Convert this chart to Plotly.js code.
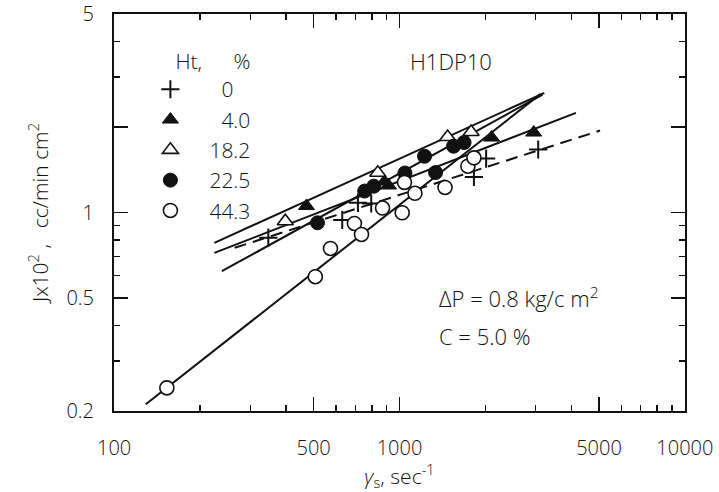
<!DOCTYPE html>
<html>
<head>
<meta charset="utf-8">
<script src="https://cdn.plot.ly/plotly-3.0.1.min.js"></script>
<style>html,body{margin:0;padding:0;background:#fff;}#chart{width:719px;height:492px;}</style>
</head>
<body>
<div id="chart"></div>
<script>
// ---- data (shear rate sec^-1, J x 10^2 cc/min cm^2) ----
const seriesNames = ["\u2002\u2009\u20070", "\u2002\u2009\u20074.0", "\u2002\u200918.2", "\u2002\u200922.5", "\u2002\u200944.3"];

const x_ht0 = [347, 630, 715, 796, 1823, 2012, 3062];
const y_ht0 = [0.815, 0.941, 1.082, 1.076, 1.334, 1.549, 1.667];

const x_ht4 = [472, 886, 915, 2102, 2953];
const y_ht4 = [1.054, 1.286, 1.245, 1.837, 1.913];

const x_ht18 = [398, 839, 1474, 1782];
const y_ht18 = [0.932, 1.380, 1.845, 1.921];

const x_ht22 = [516, 755, 813, 1045, 1224, 1338, 1547, 1684];
const y_ht22 = [0.920, 1.190, 1.238, 1.378, 1.578, 1.383, 1.712, 1.764];

const x_ht44 = [153, 507, 573, 695, 736, 872, 1022, 1041, 1133, 1444, 1736, 1823];
const y_ht44 = [0.241, 0.594, 0.747, 0.915, 0.837, 1.037, 0.998, 1.277, 1.169, 1.225, 1.456, 1.558];

// fitted straight lines (end points on log-log axes)
const fitX_ht0 = [264.5, 5044];  const fitY_ht0 = [0.751, 1.944];
const fitX_ht4 = [224.5, 4152];  const fitY_ht4 = [0.721, 2.244];
const fitX_ht18 = [224.5, 3218]; const fitY_ht18 = [0.782, 2.639];
const fitX_ht22 = [238.4, 3172]; const fitY_ht22 = [0.621, 2.603];
const fitX_ht44 = [129.1, 3124]; const fitY_ht44 = [0.211, 2.618];

const xTickVals = [100, 500, 1000, 5000, 10000];
const xTickText = ["100", "500", "1000", "5000", "10000"];
const xMinorVals = [200, 300, 400, 600, 700, 800, 900, 2000, 3000, 4000, 6000, 7000, 8000, 9000];
const yTickVals = [0.2, 0.5, 1, 2, 5];
const yTickText = ["0.2", "0.5", "1", "", "5"];
const yMinorVals = [0.3, 0.4, 0.6, 0.7, 0.8, 0.9, 3, 4];

// ---- build traces ----
const FONT = "Open Sans, DejaVu Sans, sans-serif";
const W = 300;
const INK = "#111";
function fnt(size) { return {family: FONT, size: size, color: INK, weight: W}; }
function fitLine(x, y, dash) {
  return {x: x, y: y, xaxis: "x", yaxis: "y", mode: "lines", showlegend: false, hoverinfo: "skip",
          line: {color: INK, width: 2, dash: dash || "solid"}};
}
function pts(x, y, name, marker) {
  return {x: x, y: y, xaxis: "x2", yaxis: "y2", name: name, mode: "markers", marker: marker};
}
const traces = [
  fitLine(fitX_ht0, fitY_ht0, "12px,7px"),
  fitLine(fitX_ht4, fitY_ht4),
  fitLine(fitX_ht18, fitY_ht18),
  fitLine(fitX_ht22, fitY_ht22),
  fitLine(fitX_ht44, fitY_ht44),
  pts(x_ht0, y_ht0, seriesNames[0], {symbol: "cross-thin-open", size: 13, color: INK, line: {color: INK, width: 2}}),
  pts(x_ht4, y_ht4, seriesNames[1], {symbol: "triangle-up", size: 14, color: INK, line: {color: INK, width: 1}}),
  pts(x_ht18, y_ht18, seriesNames[2], {symbol: "triangle-up", size: 14, color: "#fff", line: {color: INK, width: 1.6}}),
  pts(x_ht22, y_ht22, seriesNames[3], {symbol: "circle", size: 14, color: INK, line: {color: INK, width: 1}}),
  pts(x_ht44, y_ht44, seriesNames[4], {symbol: "circle", size: 14, color: "#fff", line: {color: INK, width: 1.6}})
];

const xRange = [Math.log10(100) - 0.0005, Math.log10(10000) + 0.0005];
const yRange = [Math.log10(0.2) - 0.0005, Math.log10(5) + 0.0005];

// base axes: minor ticks only
const minorCommon = {
  type: "log", showgrid: false, zeroline: false,
  showline: true, linecolor: INK, linewidth: 2, mirror: "allticks",
  ticks: "inside", ticklen: 6, tickwidth: 1.5, tickcolor: INK,
  showticklabels: false, tickmode: "array"
};
// overlaid axes: major ticks, labels and titles
const majorCommon = {
  type: "log", showgrid: false, zeroline: false,
  showline: true, linecolor: INK, linewidth: 2, mirror: "allticks",
  ticks: "inside", ticklen: 14, tickwidth: 1.5, tickcolor: INK,
  tickfont: fnt(20), ticklabeloverflow: "allow",
  tickmode: "array"
};

const layout = {
  width: 719, height: 492,
  margin: {l: 114, r: 34, t: 14, b: 81},
  paper_bgcolor: "#fff", plot_bgcolor: "#fff",
  font: fnt(20),
  showlegend: true,
  legend: {
    x: 0.055, y: 0.93, xanchor: "left", yanchor: "top",
    bgcolor: "rgba(0,0,0,0)", borderwidth: 0,
    font: fnt(21),
    title: {text: "\u2002\u2002\u2009\u2009Ht,\u2003\u2002%", font: fnt(21)},
    itemwidth: 40, tracegroupgap: 0
  },
  xaxis: Object.assign({}, minorCommon, {range: xRange, tickvals: xMinorVals}),
  yaxis: Object.assign({}, minorCommon, {range: yRange, tickvals: yMinorVals}),
  xaxis2: Object.assign({}, majorCommon, {
    overlaying: "x", side: "bottom", range: xRange,
    tickvals: xTickVals, ticktext: xTickText,
    ticklabelstandoff: 18,
    title: {text: "<i>\u03b3</i><sub>s</sub>, sec<sup>-1</sup>", font: fnt(21), standoff: 12}
  }),
  yaxis2: Object.assign({}, majorCommon, {
    overlaying: "y", side: "left", range: yRange,
    tickvals: yTickVals, ticktext: yTickText,
    ticklabelstandoff: 14,
    title: {text: "Jx10<sup>2</sup> ,\u2002 cc/min cm<sup>2</sup>", font: fnt(21), standoff: 12}
  }),
  annotations: [
    {xref: "paper", yref: "paper", x: 0.59, y: 0.882, text: "H1DP10", showarrow: false,
     xanchor: "center", yanchor: "middle", font: fnt(22)},
    {xref: "paper", yref: "paper", x: 0.565, y: 0.285, text: "\u0394P = 0.8 kg/c m<sup>2</sup>", showarrow: false,
     xanchor: "left", yanchor: "middle", font: fnt(22)},
    {xref: "paper", yref: "paper", x: 0.565, y: 0.189, text: "C = 5.0 %", showarrow: false,
     xanchor: "left", yanchor: "middle", font: fnt(22)}
  ]
};

Plotly.newPlot("chart", traces, layout, {displayModeBar: false, staticPlot: true});
</script>
</body>
</html>
